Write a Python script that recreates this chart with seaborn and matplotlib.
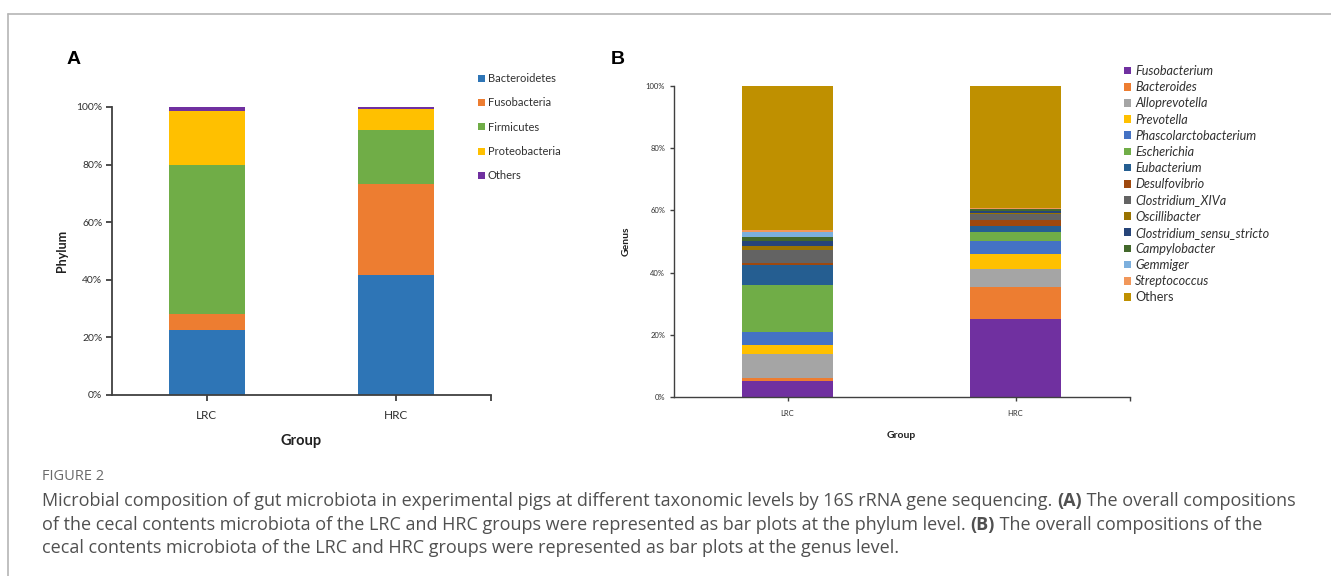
import matplotlib
matplotlib.use("Agg")
import matplotlib.pyplot as plt
import seaborn as sns
import numpy as np
from matplotlib.patches import Patch
from matplotlib.lines import Line2D
from matplotlib.ticker import FuncFormatter, FixedLocator

# ---------------- data ----------------
groups = ["LRC", "HRC"]

phyla = ["Bacteroidetes", "Fusobacteria", "Firmicutes", "Proteobacteria", "Others"]
phylum_lrc = [22.6, 5.6, 51.5, 19.0, 1.3]
phylum_hrc = [41.7, 31.7, 18.7, 7.1, 0.8]
phylum_colors = ["#2E75B6", "#ED7D31", "#70AD47", "#FFC000", "#7030A0"]

genera = ["Fusobacterium", "Bacteroides", "Alloprevotella", "Prevotella",
          "Phascolarctobacterium", "Escherichia", "Eubacterium", "Desulfovibrio",
          "Clostridium_XIVa", "Oscillibacter", "Clostridium_sensu_stricto",
          "Campylobacter", "Gemmiger", "Streptococcus", "Others"]
genus_lrc = [5.1, 1.2, 7.5, 3.0, 4.1, 15.1, 6.4, 0.6, 4.2, 1.4, 1.5, 1.3, 1.5, 0.7, 46.4]
genus_hrc = [25.2, 10.3, 5.8, 4.8, 4.0, 2.9, 2.0, 2.0, 1.8, 0.5, 0.6, 0.5, 0.1, 0.1, 39.4]
genus_colors = ["#7030A0", "#ED7D31", "#A5A5A5", "#FFC000", "#4472C4", "#70AD47",
                "#255E91", "#9E480E", "#636363", "#997300", "#264478", "#43682B",
                "#7CAFDD", "#F1975A", "#BF9000"]

caption_title = "FIGURE 2"
caption_lines = [
    [("Microbial composition of gut microbiota in experimental pigs at different taxonomic levels by 16S rRNA gene sequencing. ", "normal"),
     ("(A)", "bold"), (" The overall compositions", "normal")],
    [("of the cecal contents microbiota of the LRC and HRC groups were represented as bar plots at the phylum level. ", "normal"),
     ("(B)", "bold"), (" The overall compositions of the", "normal")],
    [("cecal contents microbiota of the LRC and HRC groups were represented as bar plots at the genus level.", "normal")],
]

# ---------------- style ----------------
sns.set_theme(style="white")
plt.rcParams["font.family"] = ["Lato", "DejaVu Sans"]

W, H = 1331, 576
fig = plt.figure(figsize=(W / 100, H / 100), dpi=100)
fig.patch.set_facecolor("white")

def fx(px):
    return px / W

def fy(py):
    return 1 - py / H

AXC = "#404040"

def stacked(ax, lrc, hrc, colors, width):
    cum_l = np.cumsum(lrc)
    cum_h = np.cumsum(hrc)
    for i in reversed(range(len(lrc))):
        sns.barplot(x=groups, y=[cum_l[i], cum_h[i]], color=colors[i], saturation=1,
                    width=width, linewidth=0, errorbar=None, ax=ax)

def style_axes(ax, tick_size, spine_w):
    ax.set_xlim(-0.5, 1.5)
    ax.set_ylim(0, 100)
    ax.set_yticks([0, 20, 40, 60, 80, 100])
    ax.yaxis.set_major_formatter(FuncFormatter(lambda v, p: f"{v:.0f}%"))
    for s in ["top", "right"]:
        ax.spines[s].set_visible(False)
    for s in ["left", "bottom"]:
        ax.spines[s].set_color(AXC)
        ax.spines[s].set_linewidth(spine_w)
    ax.tick_params(axis="both", which="both", direction="out", colors=AXC,
                   labelcolor="#303030", labelsize=tick_size, width=spine_w,
                   left=True, bottom=True, length=4, pad=3)
    ax.xaxis.set_minor_locator(FixedLocator([1.5]))
    ax.tick_params(axis="x", which="minor", length=4, width=spine_w, color=AXC)
    ax.set_facecolor("white")

# ---------------- panel A ----------------
axA = fig.add_axes([fx(112), fy(395), fx(379), (395 - 107) / H])
stacked(axA, phylum_lrc, phylum_hrc, phylum_colors, 0.4)
style_axes(axA, 7.5, 1.3)
axA.tick_params(axis="x", which="major", labelsize=8.5, pad=7)
axA.set_ylabel("Phylum", fontsize=9, fontweight="bold", color="#202020", labelpad=6)
axA.set_xlabel("Group", fontsize=10.5, fontweight="bold", color="#202020", labelpad=9)

handlesA = [Patch(facecolor=c, edgecolor="none", label=l) for l, c in zip(phyla, phylum_colors)]
legA = fig.legend(handles=handlesA, loc="upper left", bbox_to_anchor=(fx(478), fy(73)),
                  frameon=False, fontsize=8, handlelength=0.6, handleheight=0.6,
                  handletextpad=0.3, labelspacing=1.2, borderaxespad=0, borderpad=0)
for t in legA.get_texts():
    t.set_color("#303030")

# ---------------- panel B ----------------
axB = fig.add_axes([fx(673.5), fy(397.3), fx(456), 311.6 / H])
stacked(axB, genus_lrc, genus_hrc, genus_colors, 0.4)
style_axes(axB, 5.5, 1.0)
axB.tick_params(axis="both", which="both", length=3)
axB.tick_params(axis="x", which="major", pad=6)
axB.set_ylabel("Genus", fontsize=7.5, fontweight="bold", color="#202020", labelpad=11)
axB.set_xlabel("Group", fontsize=7.5, fontweight="bold", color="#202020", labelpad=10)

handlesB = [Patch(facecolor=c, edgecolor="none", label=l) for l, c in zip(genera, genus_colors)]
legB = fig.legend(handles=handlesB, loc="upper left", bbox_to_anchor=(fx(1124), fy(65)),
                  frameon=False, fontsize=9.1, handlelength=0.55, handleheight=0.55,
                  handletextpad=0.35, labelspacing=0.33, borderaxespad=0, borderpad=0)
for t in legB.get_texts():
    t.set_color("#303030")
    if t.get_text() != "Others":
        t.set_fontstyle("italic")

# ---------------- panel letters ----------------
fig.text(fx(67), fy(60), "A", fontsize=14, fontweight="bold", color="black",
         family=["Liberation Sans", "DejaVu Sans"], va="center", ha="left")
fig.text(fx(611), fy(60), "B", fontsize=14, fontweight="bold", color="black",
         family=["Liberation Sans", "DejaVu Sans"], va="center", ha="left")

# ---------------- frame ----------------
frame_c = "#b5b5b5"
fig.add_artist(Line2D([fx(8), 1], [fy(14), fy(14)], color=frame_c, lw=1.2))
fig.add_artist(Line2D([fx(8), fx(8)], [fy(14), 0], color=frame_c, lw=1.2))

# ---------------- caption ----------------
capfont = ["Open Sans", "DejaVu Sans"]
fig.text(fx(42), fy(477), caption_title, fontsize=10.5, color="#6a6a6a", family=capfont,
         va="center", ha="left")

renderer = fig.canvas.get_renderer()
line_y = [501, 525, 548]
for parts, yy in zip(caption_lines, line_y):
    x = 42
    for txt, wt in parts:
        t = fig.text(fx(x), fy(yy), txt, fontsize=12.95, fontweight=wt, color="#505050",
                     family=capfont, va="center", ha="left")
        bb = t.get_window_extent(renderer)
        x += bb.width

fig.savefig("out.png", dpi=100, facecolor="white")
